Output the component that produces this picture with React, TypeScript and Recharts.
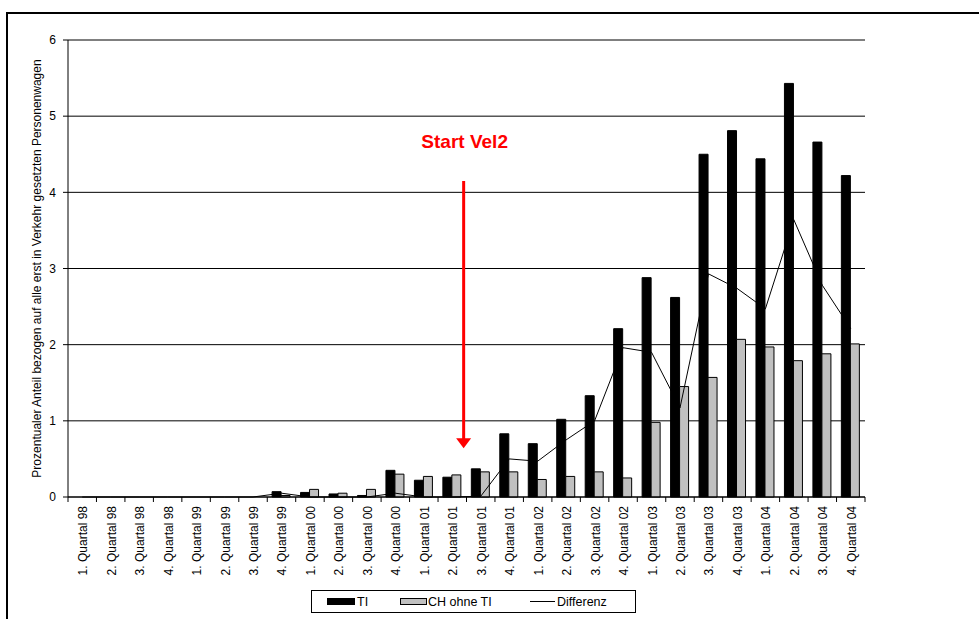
import React from 'react';
import {
  ComposedChart,
  Bar,
  Line,
  XAxis,
  YAxis,
  CartesianGrid,
  ReferenceLine,
} from 'recharts';

const categories = [
  '1. Quartal 98', '2. Quartal 98', '3. Quartal 98', '4. Quartal 98',
  '1. Quartal 99', '2. Quartal 99', '3. Quartal 99', '4. Quartal 99',
  '1. Quartal 00', '2. Quartal 00', '3. Quartal 00', '4. Quartal 00',
  '1. Quartal 01', '2. Quartal 01', '3. Quartal 01', '4. Quartal 01',
  '1. Quartal 02', '2. Quartal 02', '3. Quartal 02', '4. Quartal 02',
  '1. Quartal 03', '2. Quartal 03', '3. Quartal 03', '4. Quartal 03',
  '1. Quartal 04', '2. Quartal 04', '3. Quartal 04', '4. Quartal 04',
];

const tiValues = [
  0, 0, 0, 0, 0, 0, 0, 0.07,
  0.06, 0.04, 0.02, 0.35, 0.22, 0.26, 0.37, 0.83,
  0.7, 1.02, 1.33, 2.21, 2.88, 2.62, 4.5, 4.81,
  4.44, 5.43, 4.66, 4.22,
];

const chValues = [
  0, 0, 0, 0, 0, 0, 0, 0.02,
  0.1, 0.05, 0.1, 0.3, 0.27, 0.29, 0.33, 0.33,
  0.23, 0.27, 0.33, 0.25, 0.98, 1.45, 1.57, 2.07,
  1.97, 1.79, 1.88, 2.01,
];

const diffValues = [
  0, 0, 0, 0, 0, 0, 0, 0.05,
  0, 0, 0, 0.05, 0, 0, 0.01, 0.5,
  0.47, 0.75, 1.0, 1.96, 1.9, 1.17, 2.93, 2.74,
  2.47, 3.64, 2.78, 2.21,
];

const yTicks = [0, 1, 2, 3, 4, 5, 6];
const seriesNames = ['TI', 'CH ohne TI', 'Differenz'];
const yLabel = 'Prozentualer Anteil bezogen auf alle erst in Verkehr gesetzten Personenwagen';
const annotationText = 'Start Vel2';
const annotationCategory = '2. Quartal 01';
const annotationRange = [4.15, 0.64]; // top of arrow, arrow tip

const data = categories.map((name, i) => ({
  name,
  ti: tiValues[i],
  ch: chValues[i],
  diff: diffValues[i],
}));

const W = 979;
const H = 619;
const PLOT_LEFT = 68;
const PLOT_RIGHT = 865;
const BAND = (PLOT_RIGHT - PLOT_LEFT) / categories.length;
const FONT = '"Liberation Sans", Arial, Helvetica, sans-serif';

const CategoryTick = (props: any) => {
  const { x, y, payload, index } = props;
  const half = payload && payload.offset ? payload.offset : BAND / 2;
  return (
    <g>
      <line x1={x - half} x2={x - half} y1={y} y2={y + 5} stroke="#000" />
      {index === categories.length - 1 && (
        <line x1={x + half} x2={x + half} y1={y} y2={y + 5} stroke="#000" />
      )}
      <text
        transform={`translate(${x + 1},${y + 9}) rotate(-90)`}
        textAnchor="end"
        dominantBaseline="central"
        fontSize={12}
        fontFamily={FONT}
        fill="#000"
      >
        {payload.value}
      </text>
    </g>
  );
};

const ArrowShape = (p: any) => {
  const x = p.x1 + BAND * 0.4;
  const top = p.y1;
  const tip = p.y2;
  return (
    <g>
      <line x1={x} x2={x} y1={top} y2={tip - 9} stroke="#FF0000" strokeWidth={3} />
      <polygon points={`${x - 7.5},${tip - 10} ${x + 7.5},${tip - 10} ${x},${tip}`} fill="#FF0000" />
      <text
        x={x + 1}
        y={top - 33}
        textAnchor="middle"
        fill="#FF0000"
        fontWeight="bold"
        fontSize={19}
        fontFamily={FONT}
      >
        {annotationText}
      </text>
    </g>
  );
};

const App: React.FC = () => {
  return (
    <div style={{ position: 'absolute', left: 0, top: 0, width: W, height: H, background: '#fff', overflow: 'hidden', fontFamily: FONT }}>
      {/* outer frame, cut off at the right and bottom */}
      <div style={{ position: 'absolute', left: 6, top: 12, width: W, height: H, borderTop: '2px solid #000', borderLeft: '2px solid #000' }} />

      <div style={{ position: 'absolute', left: 0, top: 0 }}>
        <ComposedChart
          width={W}
          height={H}
          data={data}
          margin={{ top: 40, right: W - PLOT_RIGHT, bottom: 0, left: 8 }}
          barCategoryGap="17%"
          barGap={0}
        >
          <CartesianGrid vertical={false} stroke="#000" strokeWidth={1} />
          <XAxis
            dataKey="name"
            interval={0}
            height={122}
            tickSize={0}
            tickMargin={0}
            tickLine={false}
            axisLine={{ stroke: '#000' }}
            tick={<CategoryTick />}
          />
          <YAxis
            width={60}
            domain={[0, 6]}
            ticks={yTicks}
            interval={0}
            tickSize={5}
            tickMargin={7}
            axisLine={{ stroke: '#000' }}
            tickLine={{ stroke: '#000' }}
            tick={{ fontSize: 12, fill: '#000', fontFamily: FONT }}
            label={{
              value: yLabel,
              angle: -90,
              position: 'center',
              dx: -1,
              style: { fontSize: 12, fill: '#000', fontFamily: FONT, textAnchor: 'middle' },
            }}
          />
          <YAxis
            yAxisId="frame"
            orientation="right"
            width={0}
            tick={false}
            tickLine={false}
            axisLine={{ stroke: '#808080' }}
          />
          <Bar dataKey="ti" name={seriesNames[0]} fill="#000" stroke="#000" strokeWidth={1} isAnimationActive={false} />
          <Bar dataKey="ch" name={seriesNames[1]} fill="#C0C0C0" stroke="#000" strokeWidth={1} isAnimationActive={false} />
          <Line
            dataKey="diff"
            name={seriesNames[2]}
            type="linear"
            stroke="#000"
            strokeWidth={1}
            dot={false}
            activeDot={false}
            isAnimationActive={false}
          />
          <ReferenceLine
            segment={[
              { x: annotationCategory, y: annotationRange[0] },
              { x: annotationCategory, y: annotationRange[1] },
            ]}
            ifOverflow="visible"
            shape={ArrowShape}
          />
        </ComposedChart>
      </div>

      {/* legend */}
      <div style={{ position: 'absolute', left: 311, top: 590, width: 325, height: 23, border: '1px solid #000', boxSizing: 'border-box' }} />
      <div style={{ position: 'absolute', left: 327, top: 598, width: 28, height: 7, background: '#000' }} />
      <span style={{ position: 'absolute', left: 357, top: 594, fontSize: 12.5, lineHeight: '16px' }}>{seriesNames[0]}</span>
      <div style={{ position: 'absolute', left: 400, top: 598, width: 27, height: 7, background: '#C0C0C0', border: '1px solid #000', boxSizing: 'border-box' }} />
      <span style={{ position: 'absolute', left: 428, top: 594, fontSize: 12.5, lineHeight: '16px' }}>{seriesNames[1]}</span>
      <div style={{ position: 'absolute', left: 530, top: 601, width: 25, height: 1, background: '#000' }} />
      <span style={{ position: 'absolute', left: 557, top: 594, fontSize: 12.5, lineHeight: '16px' }}>{seriesNames[2]}</span>
    </div>
  );
};

export default App;
